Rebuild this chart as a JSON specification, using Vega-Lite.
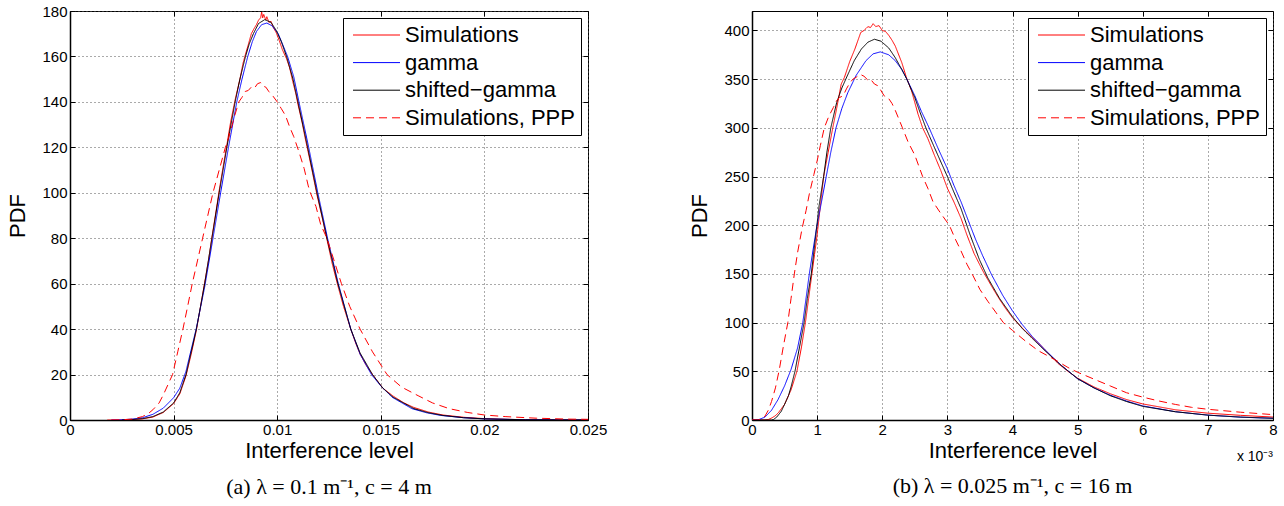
{
  "$schema": "https://vega.github.io/schema/vega-lite/v6.json",
  "background": "white",
  "padding": {"left": 6, "top": 3, "right": 8, "bottom": 4},
  "spacing": 80,
  "resolve": {"scale": {"color": "independent", "strokeDash": "independent"}, "legend": {"color": "independent", "strokeDash": "independent"}},
  "datasets": {
    "a": [
      {"s":"Simulations","x":0.0018,"y":0},{"s":"Simulations","x":0.0025,"y":0},{"s":"Simulations","x":0.003,"y":0.2},{"s":"Simulations","x":0.0035,"y":0.5},{"s":"Simulations","x":0.004,"y":1.3},{"s":"Simulations","x":0.0045,"y":3.3},{"s":"Simulations","x":0.005,"y":7.2},{"s":"Simulations","x":0.0053,"y":11.5},{"s":"Simulations","x":0.0056,"y":19.5},{"s":"Simulations","x":0.00585,"y":29},{"s":"Simulations","x":0.0061,"y":39.5},{"s":"Simulations","x":0.0063,"y":50},{"s":"Simulations","x":0.0065,"y":60.5},{"s":"Simulations","x":0.0067,"y":71},{"s":"Simulations","x":0.00685,"y":80.5},{"s":"Simulations","x":0.00705,"y":92},{"s":"Simulations","x":0.0072,"y":101},{"s":"Simulations","x":0.0074,"y":112},{"s":"Simulations","x":0.00757,"y":121},{"s":"Simulations","x":0.00775,"y":131},{"s":"Simulations","x":0.00797,"y":141},{"s":"Simulations","x":0.0082,"y":150},{"s":"Simulations","x":0.00835,"y":157},{"s":"Simulations","x":0.00847,"y":161},{"s":"Simulations","x":0.0086,"y":165},{"s":"Simulations","x":0.00875,"y":170},{"s":"Simulations","x":0.0089,"y":172.5},{"s":"Simulations","x":0.009,"y":174},{"s":"Simulations","x":0.0091,"y":176},{"s":"Simulations","x":0.0092,"y":177},{"s":"Simulations","x":0.00925,"y":179.5},{"s":"Simulations","x":0.0093,"y":177},{"s":"Simulations","x":0.00935,"y":178.5},{"s":"Simulations","x":0.00945,"y":176},{"s":"Simulations","x":0.0095,"y":177.5},{"s":"Simulations","x":0.0096,"y":175},{"s":"Simulations","x":0.0097,"y":175.5},{"s":"Simulations","x":0.0098,"y":173},{"s":"Simulations","x":0.00995,"y":170.5},{"s":"Simulations","x":0.0101,"y":167},{"s":"Simulations","x":0.01025,"y":163},{"s":"Simulations","x":0.01045,"y":159},{"s":"Simulations","x":0.0106,"y":155},{"s":"Simulations","x":0.01075,"y":149},{"s":"Simulations","x":0.0109,"y":143.5},{"s":"Simulations","x":0.011,"y":139},{"s":"Simulations","x":0.0112,"y":131},{"s":"Simulations","x":0.01135,"y":124},{"s":"Simulations","x":0.01147,"y":119},{"s":"Simulations","x":0.0117,"y":109},{"s":"Simulations","x":0.01192,"y":99},{"s":"Simulations","x":0.01215,"y":90},{"s":"Simulations","x":0.0124,"y":79.5},{"s":"Simulations","x":0.01265,"y":69},{"s":"Simulations","x":0.01293,"y":59},{"s":"Simulations","x":0.0132,"y":50},{"s":"Simulations","x":0.01355,"y":40},{"s":"Simulations","x":0.0138,"y":33.5},{"s":"Simulations","x":0.014,"y":29},{"s":"Simulations","x":0.0143,"y":24},{"s":"Simulations","x":0.0146,"y":20},{"s":"Simulations","x":0.0151,"y":14},{"s":"Simulations","x":0.0156,"y":10.5},{"s":"Simulations","x":0.0161,"y":7.6},{"s":"Simulations","x":0.0166,"y":5.5},{"s":"Simulations","x":0.0173,"y":3.5},{"s":"Simulations","x":0.018,"y":2.2},{"s":"Simulations","x":0.019,"y":1.2},{"s":"Simulations","x":0.02,"y":0.6},{"s":"Simulations","x":0.021,"y":0.3},{"s":"Simulations","x":0.022,"y":0.15},{"s":"Simulations","x":0.0235,"y":0.05},{"s":"Simulations","x":0.025,"y":0},

      {"s":"gamma","x":0.002,"y":0},{"s":"gamma","x":0.0025,"y":0.1},{"s":"gamma","x":0.003,"y":0.4},{"s":"gamma","x":0.0035,"y":1.0},{"s":"gamma","x":0.004,"y":2.5},{"s":"gamma","x":0.0045,"y":5.2},{"s":"gamma","x":0.005,"y":9.8},{"s":"gamma","x":0.0053,"y":14},{"s":"gamma","x":0.0056,"y":21.5},{"s":"gamma","x":0.0061,"y":40.5},{"s":"gamma","x":0.0065,"y":58.5},{"s":"gamma","x":0.0069,"y":80},{"s":"gamma","x":0.00727,"y":100},{"s":"gamma","x":0.00765,"y":120},{"s":"gamma","x":0.00805,"y":140},{"s":"gamma","x":0.0083,"y":150},{"s":"gamma","x":0.00858,"y":160},{"s":"gamma","x":0.0088,"y":166.5},{"s":"gamma","x":0.009,"y":171},{"s":"gamma","x":0.00925,"y":174},{"s":"gamma","x":0.0095,"y":174.7},{"s":"gamma","x":0.00975,"y":173.5},{"s":"gamma","x":0.01005,"y":170},{"s":"gamma","x":0.0105,"y":160},{"s":"gamma","x":0.0108,"y":151},{"s":"gamma","x":0.01105,"y":140},{"s":"gamma","x":0.01152,"y":120},{"s":"gamma","x":0.01196,"y":100},{"s":"gamma","x":0.01243,"y":80},{"s":"gamma","x":0.01295,"y":60},{"s":"gamma","x":0.01355,"y":40},{"s":"gamma","x":0.014,"y":29},{"s":"gamma","x":0.01455,"y":20},{"s":"gamma","x":0.015,"y":15},{"s":"gamma","x":0.01555,"y":10},{"s":"gamma","x":0.0165,"y":5},{"s":"gamma","x":0.0172,"y":3.2},{"s":"gamma","x":0.0179,"y":2},{"s":"gamma","x":0.019,"y":1.0},{"s":"gamma","x":0.02,"y":0.5},{"s":"gamma","x":0.022,"y":0.12},{"s":"gamma","x":0.025,"y":0},

      {"s":"shifted−gamma","x":0.0025,"y":0},{"s":"shifted−gamma","x":0.003,"y":0.2},{"s":"shifted−gamma","x":0.0035,"y":0.6},{"s":"shifted−gamma","x":0.004,"y":1.5},{"s":"shifted−gamma","x":0.0045,"y":3.5},{"s":"shifted−gamma","x":0.005,"y":7.5},{"s":"shifted−gamma","x":0.0053,"y":12},{"s":"shifted−gamma","x":0.0056,"y":20},{"s":"shifted−gamma","x":0.0061,"y":40},{"s":"shifted−gamma","x":0.0065,"y":60},{"s":"shifted−gamma","x":0.00685,"y":80},{"s":"shifted−gamma","x":0.0072,"y":100},{"s":"shifted−gamma","x":0.00757,"y":120},{"s":"shifted−gamma","x":0.00797,"y":140},{"s":"shifted−gamma","x":0.0082,"y":150},{"s":"shifted−gamma","x":0.00847,"y":160},{"s":"shifted−gamma","x":0.00865,"y":165.5},{"s":"shifted−gamma","x":0.00885,"y":170},{"s":"shifted−gamma","x":0.0091,"y":174.5},{"s":"shifted−gamma","x":0.0094,"y":176.2},{"s":"shifted−gamma","x":0.0097,"y":175},{"s":"shifted−gamma","x":0.00995,"y":171.5},{"s":"shifted−gamma","x":0.0102,"y":166.5},{"s":"shifted−gamma","x":0.01045,"y":160},{"s":"shifted−gamma","x":0.01075,"y":150.5},{"s":"shifted−gamma","x":0.011,"y":140},{"s":"shifted−gamma","x":0.01147,"y":120},{"s":"shifted−gamma","x":0.01192,"y":100},{"s":"shifted−gamma","x":0.0124,"y":80},{"s":"shifted−gamma","x":0.01293,"y":60},{"s":"shifted−gamma","x":0.01355,"y":40},{"s":"shifted−gamma","x":0.014,"y":29.5},{"s":"shifted−gamma","x":0.0146,"y":20},{"s":"shifted−gamma","x":0.0151,"y":14},{"s":"shifted−gamma","x":0.0156,"y":10},{"s":"shifted−gamma","x":0.0166,"y":5},{"s":"shifted−gamma","x":0.0173,"y":3.2},{"s":"shifted−gamma","x":0.018,"y":2},{"s":"shifted−gamma","x":0.019,"y":1},{"s":"shifted−gamma","x":0.02,"y":0.5},{"s":"shifted−gamma","x":0.022,"y":0.1},{"s":"shifted−gamma","x":0.025,"y":0},

      {"s":"Simulations, PPP","x":0.002,"y":0},{"s":"Simulations, PPP","x":0.0025,"y":0.1},{"s":"Simulations, PPP","x":0.003,"y":0.4},{"s":"Simulations, PPP","x":0.0035,"y":1.5},{"s":"Simulations, PPP","x":0.0038,"y":3},{"s":"Simulations, PPP","x":0.004,"y":4.5},{"s":"Simulations, PPP","x":0.0043,"y":7.5},{"s":"Simulations, PPP","x":0.0045,"y":11},{"s":"Simulations, PPP","x":0.00475,"y":16},{"s":"Simulations, PPP","x":0.00495,"y":20},{"s":"Simulations, PPP","x":0.0052,"y":30},{"s":"Simulations, PPP","x":0.00545,"y":40},{"s":"Simulations, PPP","x":0.0057,"y":51},{"s":"Simulations, PPP","x":0.0059,"y":60},{"s":"Simulations, PPP","x":0.00615,"y":70},{"s":"Simulations, PPP","x":0.0064,"y":80},{"s":"Simulations, PPP","x":0.00665,"y":90},{"s":"Simulations, PPP","x":0.0069,"y":100},{"s":"Simulations, PPP","x":0.0072,"y":110},{"s":"Simulations, PPP","x":0.0075,"y":120},{"s":"Simulations, PPP","x":0.00765,"y":124},{"s":"Simulations, PPP","x":0.0078,"y":129},{"s":"Simulations, PPP","x":0.00795,"y":134},{"s":"Simulations, PPP","x":0.00815,"y":140},{"s":"Simulations, PPP","x":0.0083,"y":142},{"s":"Simulations, PPP","x":0.00846,"y":144.6},{"s":"Simulations, PPP","x":0.0086,"y":145},{"s":"Simulations, PPP","x":0.00875,"y":146.5},{"s":"Simulations, PPP","x":0.0089,"y":146},{"s":"Simulations, PPP","x":0.00905,"y":148},{"s":"Simulations, PPP","x":0.0092,"y":148.5},{"s":"Simulations, PPP","x":0.0093,"y":147},{"s":"Simulations, PPP","x":0.00945,"y":146.5},{"s":"Simulations, PPP","x":0.0096,"y":144.5},{"s":"Simulations, PPP","x":0.0098,"y":142.5},{"s":"Simulations, PPP","x":0.01,"y":140},{"s":"Simulations, PPP","x":0.0102,"y":137},{"s":"Simulations, PPP","x":0.0104,"y":134},{"s":"Simulations, PPP","x":0.0106,"y":129},{"s":"Simulations, PPP","x":0.0108,"y":124.7},{"s":"Simulations, PPP","x":0.01105,"y":118},{"s":"Simulations, PPP","x":0.0113,"y":110.7},{"s":"Simulations, PPP","x":0.0115,"y":103},{"s":"Simulations, PPP","x":0.0116,"y":100},{"s":"Simulations, PPP","x":0.01187,"y":94},{"s":"Simulations, PPP","x":0.0121,"y":86},{"s":"Simulations, PPP","x":0.0124,"y":80},{"s":"Simulations, PPP","x":0.01275,"y":70},{"s":"Simulations, PPP","x":0.0131,"y":60},{"s":"Simulations, PPP","x":0.0135,"y":50},{"s":"Simulations, PPP","x":0.014,"y":40},{"s":"Simulations, PPP","x":0.0146,"y":30},{"s":"Simulations, PPP","x":0.0153,"y":20},{"s":"Simulations, PPP","x":0.016,"y":14.5},{"s":"Simulations, PPP","x":0.0168,"y":10.7},{"s":"Simulations, PPP","x":0.0175,"y":7.5},{"s":"Simulations, PPP","x":0.0183,"y":5},{"s":"Simulations, PPP","x":0.0192,"y":3.3},{"s":"Simulations, PPP","x":0.02,"y":2.2},{"s":"Simulations, PPP","x":0.021,"y":1.5},{"s":"Simulations, PPP","x":0.0225,"y":0.8},{"s":"Simulations, PPP","x":0.024,"y":0.4},{"s":"Simulations, PPP","x":0.025,"y":0.3}
    ],
    "b": [
      {"s":"Simulations","x":0,"y":0},{"s":"Simulations","x":0.2,"y":0},{"s":"Simulations","x":0.25,"y":0.5},{"s":"Simulations","x":0.3,"y":2},{"s":"Simulations","x":0.35,"y":4},{"s":"Simulations","x":0.4,"y":7},{"s":"Simulations","x":0.5,"y":16},{"s":"Simulations","x":0.6,"y":31},{"s":"Simulations","x":0.69,"y":50},{"s":"Simulations","x":0.76,"y":75},{"s":"Simulations","x":0.82,"y":100},{"s":"Simulations","x":0.87,"y":125},{"s":"Simulations","x":0.92,"y":150},{"s":"Simulations","x":0.96,"y":170},{"s":"Simulations","x":1.0,"y":190},{"s":"Simulations","x":1.05,"y":220},{"s":"Simulations","x":1.1,"y":250},{"s":"Simulations","x":1.17,"y":275},{"s":"Simulations","x":1.24,"y":300},{"s":"Simulations","x":1.3,"y":320},{"s":"Simulations","x":1.37,"y":345},{"s":"Simulations","x":1.42,"y":352},{"s":"Simulations","x":1.5,"y":368},{"s":"Simulations","x":1.58,"y":381},{"s":"Simulations","x":1.67,"y":398},{"s":"Simulations","x":1.72,"y":400},{"s":"Simulations","x":1.78,"y":404},{"s":"Simulations","x":1.82,"y":403},{"s":"Simulations","x":1.86,"y":407},{"s":"Simulations","x":1.9,"y":404},{"s":"Simulations","x":1.95,"y":405},{"s":"Simulations","x":2.0,"y":400},{"s":"Simulations","x":2.05,"y":399},{"s":"Simulations","x":2.1,"y":395},{"s":"Simulations","x":2.15,"y":390},{"s":"Simulations","x":2.2,"y":384},{"s":"Simulations","x":2.3,"y":367},{"s":"Simulations","x":2.37,"y":352},{"s":"Simulations","x":2.45,"y":338},{"s":"Simulations","x":2.55,"y":314},{"s":"Simulations","x":2.62,"y":300},{"s":"Simulations","x":2.7,"y":289},{"s":"Simulations","x":2.8,"y":272},{"s":"Simulations","x":2.9,"y":256},{"s":"Simulations","x":3.0,"y":238},{"s":"Simulations","x":3.1,"y":224},{"s":"Simulations","x":3.21,"y":207},{"s":"Simulations","x":3.3,"y":190},{"s":"Simulations","x":3.41,"y":171},{"s":"Simulations","x":3.5,"y":159},{"s":"Simulations","x":3.57,"y":150},{"s":"Simulations","x":3.7,"y":135},{"s":"Simulations","x":3.8,"y":124},{"s":"Simulations","x":3.9,"y":114},{"s":"Simulations","x":4.0,"y":105},{"s":"Simulations","x":4.1,"y":98},{"s":"Simulations","x":4.2,"y":91},{"s":"Simulations","x":4.3,"y":85},{"s":"Simulations","x":4.4,"y":79},{"s":"Simulations","x":4.5,"y":72},{"s":"Simulations","x":4.6,"y":65},{"s":"Simulations","x":4.7,"y":58},{"s":"Simulations","x":4.85,"y":50},{"s":"Simulations","x":5.0,"y":43},{"s":"Simulations","x":5.25,"y":34},{"s":"Simulations","x":5.5,"y":27},{"s":"Simulations","x":5.75,"y":21},{"s":"Simulations","x":6.0,"y":16.5},{"s":"Simulations","x":6.5,"y":10.5},{"s":"Simulations","x":7.0,"y":7},{"s":"Simulations","x":7.5,"y":4.8},{"s":"Simulations","x":8.0,"y":3},

      {"s":"gamma","x":0,"y":0},{"s":"gamma","x":0.1,"y":0.3},{"s":"gamma","x":0.2,"y":3},{"s":"gamma","x":0.3,"y":10},{"s":"gamma","x":0.4,"y":21},{"s":"gamma","x":0.5,"y":35},{"s":"gamma","x":0.6,"y":52},{"s":"gamma","x":0.7,"y":74},{"s":"gamma","x":0.78,"y":100},{"s":"gamma","x":0.88,"y":150},{"s":"gamma","x":0.99,"y":197},{"s":"gamma","x":1.07,"y":225},{"s":"gamma","x":1.14,"y":250},{"s":"gamma","x":1.21,"y":275},{"s":"gamma","x":1.29,"y":300},{"s":"gamma","x":1.38,"y":320},{"s":"gamma","x":1.47,"y":336},{"s":"gamma","x":1.6,"y":354},{"s":"gamma","x":1.75,"y":369},{"s":"gamma","x":1.86,"y":376},{"s":"gamma","x":1.97,"y":378},{"s":"gamma","x":2.1,"y":375},{"s":"gamma","x":2.2,"y":369},{"s":"gamma","x":2.3,"y":360},{"s":"gamma","x":2.37,"y":351},{"s":"gamma","x":2.5,"y":333},{"s":"gamma","x":2.6,"y":317},{"s":"gamma","x":2.72,"y":300},{"s":"gamma","x":2.85,"y":280},{"s":"gamma","x":3.0,"y":258},{"s":"gamma","x":3.1,"y":241},{"s":"gamma","x":3.21,"y":224},{"s":"gamma","x":3.32,"y":205},{"s":"gamma","x":3.43,"y":186},{"s":"gamma","x":3.54,"y":169},{"s":"gamma","x":3.68,"y":149},{"s":"gamma","x":3.85,"y":128},{"s":"gamma","x":4.0,"y":112},{"s":"gamma","x":4.15,"y":98},{"s":"gamma","x":4.3,"y":86},{"s":"gamma","x":4.5,"y":72},{"s":"gamma","x":4.75,"y":56},{"s":"gamma","x":5.0,"y":42.4},{"s":"gamma","x":5.25,"y":33},{"s":"gamma","x":5.5,"y":25.5},{"s":"gamma","x":5.75,"y":19.5},{"s":"gamma","x":6.0,"y":14.5},{"s":"gamma","x":6.5,"y":8.5},{"s":"gamma","x":7.0,"y":5},{"s":"gamma","x":7.5,"y":2.9},{"s":"gamma","x":8.0,"y":1.7},

      {"s":"shifted−gamma","x":0,"y":0},{"s":"shifted−gamma","x":0.3,"y":0},{"s":"shifted−gamma","x":0.33,"y":0.5},{"s":"shifted−gamma","x":0.38,"y":3},{"s":"shifted−gamma","x":0.45,"y":9},{"s":"shifted−gamma","x":0.5,"y":16},{"s":"shifted−gamma","x":0.56,"y":25},{"s":"shifted−gamma","x":0.6,"y":34},{"s":"shifted−gamma","x":0.66,"y":50},{"s":"shifted−gamma","x":0.73,"y":75},{"s":"shifted−gamma","x":0.8,"y":100},{"s":"shifted−gamma","x":0.85,"y":125},{"s":"shifted−gamma","x":0.91,"y":150},{"s":"shifted−gamma","x":0.98,"y":190},{"s":"shifted−gamma","x":1.03,"y":220},{"s":"shifted−gamma","x":1.1,"y":250},{"s":"shifted−gamma","x":1.15,"y":275},{"s":"shifted−gamma","x":1.21,"y":300},{"s":"shifted−gamma","x":1.3,"y":326},{"s":"shifted−gamma","x":1.38,"y":341},{"s":"shifted−gamma","x":1.46,"y":353},{"s":"shifted−gamma","x":1.57,"y":369},{"s":"shifted−gamma","x":1.68,"y":381},{"s":"shifted−gamma","x":1.78,"y":388},{"s":"shifted−gamma","x":1.88,"y":391},{"s":"shifted−gamma","x":1.98,"y":389},{"s":"shifted−gamma","x":2.1,"y":382},{"s":"shifted−gamma","x":2.2,"y":372},{"s":"shifted−gamma","x":2.3,"y":360},{"s":"shifted−gamma","x":2.37,"y":351},{"s":"shifted−gamma","x":2.5,"y":331},{"s":"shifted−gamma","x":2.58,"y":316},{"s":"shifted−gamma","x":2.67,"y":300},{"s":"shifted−gamma","x":2.8,"y":280},{"s":"shifted−gamma","x":2.9,"y":265},{"s":"shifted−gamma","x":3.0,"y":250},{"s":"shifted−gamma","x":3.1,"y":234},{"s":"shifted−gamma","x":3.21,"y":217},{"s":"shifted−gamma","x":3.35,"y":190},{"s":"shifted−gamma","x":3.49,"y":165},{"s":"shifted−gamma","x":3.62,"y":146},{"s":"shifted−gamma","x":3.8,"y":125},{"s":"shifted−gamma","x":4.0,"y":106},{"s":"shifted−gamma","x":4.15,"y":94},{"s":"shifted−gamma","x":4.3,"y":84},{"s":"shifted−gamma","x":4.5,"y":71},{"s":"shifted−gamma","x":4.75,"y":56},{"s":"shifted−gamma","x":5.0,"y":42.4},{"s":"shifted−gamma","x":5.25,"y":33},{"s":"shifted−gamma","x":5.5,"y":25},{"s":"shifted−gamma","x":5.75,"y":19},{"s":"shifted−gamma","x":6.0,"y":14},{"s":"shifted−gamma","x":6.5,"y":8.5},{"s":"shifted−gamma","x":7.0,"y":5},{"s":"shifted−gamma","x":7.5,"y":3},{"s":"shifted−gamma","x":8.0,"y":1.8},

      {"s":"Simulations, PPP","x":0,"y":0},{"s":"Simulations, PPP","x":0.1,"y":0},{"s":"Simulations, PPP","x":0.15,"y":1},{"s":"Simulations, PPP","x":0.2,"y":4},{"s":"Simulations, PPP","x":0.25,"y":10},{"s":"Simulations, PPP","x":0.3,"y":19},{"s":"Simulations, PPP","x":0.36,"y":33},{"s":"Simulations, PPP","x":0.42,"y":52},{"s":"Simulations, PPP","x":0.48,"y":75},{"s":"Simulations, PPP","x":0.55,"y":100},{"s":"Simulations, PPP","x":0.6,"y":125},{"s":"Simulations, PPP","x":0.65,"y":150},{"s":"Simulations, PPP","x":0.7,"y":172},{"s":"Simulations, PPP","x":0.77,"y":197},{"s":"Simulations, PPP","x":0.83,"y":215},{"s":"Simulations, PPP","x":0.88,"y":232},{"s":"Simulations, PPP","x":0.95,"y":252},{"s":"Simulations, PPP","x":1.0,"y":266},{"s":"Simulations, PPP","x":1.05,"y":282},{"s":"Simulations, PPP","x":1.11,"y":300},{"s":"Simulations, PPP","x":1.18,"y":312},{"s":"Simulations, PPP","x":1.25,"y":321},{"s":"Simulations, PPP","x":1.3,"y":328},{"s":"Simulations, PPP","x":1.34,"y":331},{"s":"Simulations, PPP","x":1.4,"y":333},{"s":"Simulations, PPP","x":1.45,"y":340},{"s":"Simulations, PPP","x":1.5,"y":346},{"s":"Simulations, PPP","x":1.55,"y":350},{"s":"Simulations, PPP","x":1.6,"y":352},{"s":"Simulations, PPP","x":1.66,"y":355},{"s":"Simulations, PPP","x":1.72,"y":353},{"s":"Simulations, PPP","x":1.78,"y":349},{"s":"Simulations, PPP","x":1.82,"y":350},{"s":"Simulations, PPP","x":1.88,"y":345},{"s":"Simulations, PPP","x":1.94,"y":343},{"s":"Simulations, PPP","x":2.0,"y":336},{"s":"Simulations, PPP","x":2.05,"y":331},{"s":"Simulations, PPP","x":2.1,"y":330},{"s":"Simulations, PPP","x":2.15,"y":325},{"s":"Simulations, PPP","x":2.2,"y":318},{"s":"Simulations, PPP","x":2.31,"y":300},{"s":"Simulations, PPP","x":2.4,"y":285},{"s":"Simulations, PPP","x":2.5,"y":272},{"s":"Simulations, PPP","x":2.62,"y":250},{"s":"Simulations, PPP","x":2.7,"y":238},{"s":"Simulations, PPP","x":2.78,"y":224},{"s":"Simulations, PPP","x":2.9,"y":212},{"s":"Simulations, PPP","x":3.03,"y":200},{"s":"Simulations, PPP","x":3.12,"y":186},{"s":"Simulations, PPP","x":3.2,"y":175},{"s":"Simulations, PPP","x":3.3,"y":160},{"s":"Simulations, PPP","x":3.38,"y":150},{"s":"Simulations, PPP","x":3.5,"y":134},{"s":"Simulations, PPP","x":3.62,"y":122},{"s":"Simulations, PPP","x":3.75,"y":110},{"s":"Simulations, PPP","x":3.86,"y":100},{"s":"Simulations, PPP","x":4.0,"y":92},{"s":"Simulations, PPP","x":4.2,"y":81},{"s":"Simulations, PPP","x":4.4,"y":71},{"s":"Simulations, PPP","x":4.65,"y":62},{"s":"Simulations, PPP","x":4.85,"y":54},{"s":"Simulations, PPP","x":5.0,"y":49},{"s":"Simulations, PPP","x":5.25,"y":42},{"s":"Simulations, PPP","x":5.5,"y":35},{"s":"Simulations, PPP","x":5.75,"y":28},{"s":"Simulations, PPP","x":6.0,"y":23.5},{"s":"Simulations, PPP","x":6.25,"y":19.5},{"s":"Simulations, PPP","x":6.5,"y":16},{"s":"Simulations, PPP","x":6.75,"y":13},{"s":"Simulations, PPP","x":7.0,"y":11},{"s":"Simulations, PPP","x":7.5,"y":8},{"s":"Simulations, PPP","x":8.0,"y":5.5}
    ]
  },
  "hconcat": [
    {
      "width": 518,
      "height": 409,
      "title": {"text": "(a) λ = 0.1 m⁻¹, c = 4 m", "orient": "bottom", "anchor": "middle", "offset": 16},
      "layer": [
        {
          "data": {"name": "a"},
          "mark": {"type": "line", "strokeWidth": 1, "clip": true},
          "encoding": {
            "x": {"field": "x", "type": "quantitative", "scale": {"domain": [0, 0.025], "nice": false, "zero": false},
                  "axis": {"title": "Interference level", "values": [0, 0.005, 0.01, 0.015, 0.02, 0.025], "format": "~g", "grid": true}},
            "y": {"field": "y", "type": "quantitative", "scale": {"domain": [0, 180], "nice": false},
                  "axis": {"title": "PDF", "values": [0, 20, 40, 60, 80, 100, 120, 140, 160, 180], "grid": true}},
            "color": {"field": "s", "type": "nominal", "title": null, "legend": {"orient": "top-right"},
                      "scale": {"domain": ["Simulations", "gamma", "shifted−gamma", "Simulations, PPP"], "range": ["#ff0000", "#0000ff", "#000000", "#ff0000"]}},
            "strokeDash": {"field": "s", "type": "nominal", "title": null, "legend": {"orient": "top-right"},
                      "scale": {"domain": ["Simulations", "gamma", "shifted−gamma", "Simulations, PPP"], "range": [[1, 0], [1, 0], [1, 0], [8, 5]]}}
          }
        },
        {
          "data": {"values": [{"x": 0, "y": 0}]},
          "mark": {"type": "point", "opacity": 0},
          "encoding": {
            "x": {"field": "x", "type": "quantitative", "axis": {"orient": "top", "labels": false, "title": null, "grid": false, "domain": false, "values": [0, 0.005, 0.01, 0.015, 0.02, 0.025]}},
            "y": {"field": "y", "type": "quantitative", "axis": {"orient": "right", "labels": false, "title": null, "grid": false, "domain": false, "values": [0, 20, 40, 60, 80, 100, 120, 140, 160, 180]}}
          }
        }
      ],
      "resolve": {"axis": {"x": "independent", "y": "independent"}}
    },
    {
      "width": 521,
      "height": 409,
      "title": {"text": "(b) λ = 0.025 m⁻¹, c = 16 m", "orient": "bottom", "anchor": "middle", "offset": 12},
      "layer": [
        {
          "data": {"name": "b"},
          "mark": {"type": "line", "strokeWidth": 1, "clip": true},
          "encoding": {
            "x": {"field": "x", "type": "quantitative", "scale": {"domain": [0, 8], "nice": false},
                  "axis": {"title": "Interference level", "values": [0, 1, 2, 3, 4, 5, 6, 7, 8], "grid": true}},
            "y": {"field": "y", "type": "quantitative", "scale": {"domain": [0, 420], "nice": false},
                  "axis": {"title": "PDF", "values": [0, 50, 100, 150, 200, 250, 300, 350, 400], "grid": true}},
            "color": {"field": "s", "type": "nominal", "title": null, "legend": {"orient": "top-right"},
                      "scale": {"domain": ["Simulations", "gamma", "shifted−gamma", "Simulations, PPP"], "range": ["#ff0000", "#0000ff", "#000000", "#ff0000"]}},
            "strokeDash": {"field": "s", "type": "nominal", "title": null, "legend": {"orient": "top-right"},
                      "scale": {"domain": ["Simulations", "gamma", "shifted−gamma", "Simulations, PPP"], "range": [[1, 0], [1, 0], [1, 0], [8, 5]]}}
          }
        },
        {
          "data": {"values": [{"x": 0, "y": 0}]},
          "mark": {"type": "point", "opacity": 0},
          "encoding": {
            "x": {"field": "x", "type": "quantitative", "axis": {"orient": "top", "labels": false, "title": null, "grid": false, "domain": false, "values": [0, 1, 2, 3, 4, 5, 6, 7, 8]}},
            "y": {"field": "y", "type": "quantitative", "axis": {"orient": "right", "labels": false, "title": null, "grid": false, "domain": false, "values": [0, 50, 100, 150, 200, 250, 300, 350, 400]}}
          }
        },
        {
          "data": {"values": [{"x": 8, "y": 0, "t": "x 10⁻³"}]},
          "mark": {"type": "text", "align": "right", "baseline": "middle", "dy": 37, "fontSize": 14, "font": "Liberation Sans", "color": "#000", "clip": false},
          "encoding": {
            "x": {"field": "x", "type": "quantitative", "axis": null},
            "y": {"field": "y", "type": "quantitative", "axis": null},
            "text": {"field": "t"}
          }
        }
      ],
      "resolve": {"axis": {"x": "independent", "y": "independent"}}
    }
  ],
  "config": {
    "font": "Liberation Sans",
    "view": {"stroke": "#000", "strokeWidth": 1},
    "axis": {
      "labelFont": "Liberation Sans", "labelFontSize": 15, "labelColor": "#000",
      "titleFont": "Liberation Sans", "titleFontSize": 22, "titleFontWeight": "normal", "titleColor": "#000",
      "gridColor": "#555", "gridDash": [1, 3], "gridWidth": 1, "gridOpacity": 1,
      "domainColor": "#000", "domainWidth": 1.5, "tickColor": "#000", "tickSize": -5, "tickWidth": 1,
      "labelFlush": false, "labelOverlap": false
    },
    "axisX": {"titlePadding": 3, "labelPadding": 7},
    "axisY": {"titlePadding": 12, "labelPadding": 8},
    "legend": {
      "orient": "top-right", "offset": 7, "strokeColor": "#000", "fillColor": "#fff", "padding": 6,
      "labelFont": "Liberation Sans", "labelFontSize": 22, "labelColor": "#000", "labelLimit": 400,
      "symbolType": "M-0.7,0H4", "symbolSize": 400, "symbolStrokeWidth": 1, "labelOffset": 34, "rowPadding": 5.6
    },
    "title": {"font": "Liberation Serif", "fontSize": 22, "fontWeight": "normal", "color": "#000"}
  }
}
